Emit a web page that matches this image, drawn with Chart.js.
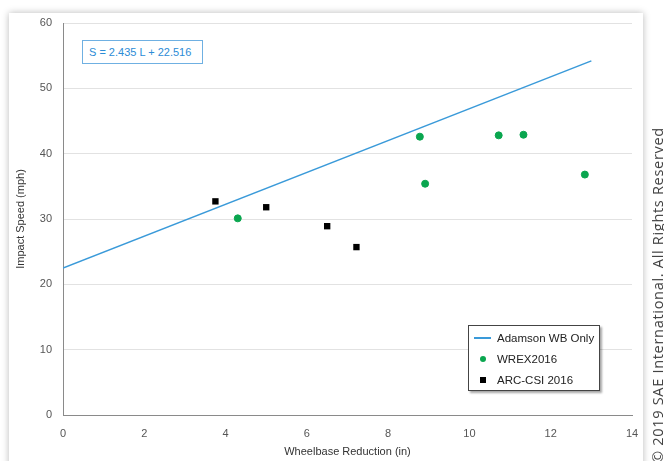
<!DOCTYPE html>
<html>
<head>
<meta charset="utf-8">
<script src="https://cdn.jsdelivr.net/npm/chart.js@4"></script>
<style>
  html, body { margin: 0; padding: 0; background: #fff; }
  body { width: 664px; height: 461px; position: relative; overflow: hidden; font-family: "Liberation Sans", Arial, sans-serif; }
  #card { position: absolute; left: 9px; top: 13px; width: 634px; height: 470px; background: #fff; box-shadow: 0 0 7px rgba(0,0,0,0.28); }
  #wrap { position: absolute; left: 0; top: 0; width: 664px; height: 461px; }
  #eq { position: absolute; left: 82px; top: 40px; width: 121px; height: 24px; border: 1px solid #6fb0e2; box-sizing: border-box;
        color: #2c8cd6; font-size: 11px; line-height: 22px; padding-left: 6px; background: #fff; }
  #legend { position: absolute; left: 468px; top: 325px; width: 132px; height: 66px; border: 1px solid #444; box-sizing: border-box;
            background: #fff; box-shadow: 2px 2px 2px rgba(0,0,0,0.35); font-size: 11.5px; color: #222; }
  .row { position: absolute; left: 0; height: 16px; line-height: 16px; }
  .row span { position: absolute; left: 28px; white-space: nowrap; }
  .lin { position: absolute; left: 5px; top: 7px; width: 17px; height: 2px; background: #3a9ad9; }
  .dot { position: absolute; left: 11px; top: 5px; width: 6px; height: 6px; border-radius: 50%; background: #0aa64f; }
  .sq { position: absolute; left: 11px; top: 5px; width: 6px; height: 6px; background: #000; }
  #copy { position: absolute; left: 650px; top: 463px; transform-origin: 0 0; transform: rotate(-90deg);
          font-family: "Open Sans", sans-serif; font-size: 14.5px; letter-spacing: 0.7px; line-height: 16px; color: #444; white-space: nowrap; }
</style>
</head>
<body>
<div id="card"></div>
<div id="wrap"><canvas id="c" width="664" height="461"></canvas></div>
<div id="eq">S = 2.435 L + 22.516</div>
<div id="legend">
  <div class="row" style="top:4px"><div class="lin"></div><span>Adamson WB Only</span></div>
  <div class="row" style="top:25px"><div class="dot"></div><span>WREX2016</span></div>
  <div class="row" style="top:46px"><div class="sq"></div><span>ARC-CSI 2016</span></div>
</div>
<div id="copy">© 2019 SAE International. All Rights Reserved</div>
<script>
// trend line endpoints (S = 2.435 L + 22.516)
const trendX = [0, 13];
const trendY = [22.5, 54.2];

// WREX2016 points
const wrexX = [4.3, 8.78, 8.91, 10.72, 11.33, 12.84];
const wrexY = [30.1, 42.6, 35.4, 42.8, 42.9, 36.8];

// ARC-CSI 2016 points
const arcX = [3.75, 5.0, 6.5, 7.22];
const arcY = [32.7, 31.8, 28.9, 25.7];

const xTicks = [0, 2, 4, 6, 8, 10, 12, 14];
const yTicks = [0, 10, 20, 30, 40, 50, 60];

function pts(xs, ys) {
    return xs.map((x, i) => ({ x: x, y: ys[i] }));
}

const tickFont = { family: 'Liberation Sans', size: 11 };

new Chart(document.getElementById('c'), {
    type: 'scatter',
    data: {
        datasets: [
            {
                label: 'Adamson WB Only',
                data: pts(trendX, trendY),
                showLine: true,
                borderColor: '#3a9ad9',
                borderWidth: 1.5,
                pointRadius: 0
            },
            {
                label: 'WREX2016',
                data: pts(wrexX, wrexY),
                backgroundColor: '#0aa64f',
                borderColor: '#0aa64f',
                pointRadius: 3.5,
                pointStyle: 'circle'
            },
            {
                label: 'ARC-CSI 2016',
                data: pts(arcX, arcY),
                backgroundColor: '#000',
                borderColor: '#000',
                borderWidth: 0,
                pointRadius: 4.5,
                pointStyle: 'rect'
            }
        ]
    },
    options: {
        responsive: false,
        animation: false,
        layout: { padding: { left: 10, top: 23, right: 32, bottom: 0 } },
        plugins: { legend: { display: false }, tooltip: { enabled: false } },
        scales: {
            x: {
                type: 'linear',
                min: 0, max: 14,
                afterBuildTicks: s => { s.ticks = xTicks.map(v => ({ value: v })); },
                afterFit: s => { s.height = 46; },
                grid: { display: false, drawTicks: false },
                border: { color: '#8a8a8a', width: 1 },
                ticks: { padding: 12, color: '#555', font: tickFont, maxRotation: 0 },
                title: { display: true, text: 'Wheelbase Reduction (in)', color: '#333', font: tickFont, padding: { top: 0, bottom: 2 } }
            },
            y: {
                type: 'linear',
                min: 0, max: 60,
                afterBuildTicks: s => { s.ticks = yTicks.map(v => ({ value: v })); },
                afterFit: s => { s.width = 53; },
                grid: { color: '#e2e2e2', drawTicks: false },
                border: { color: '#8a8a8a', width: 1 },
                ticks: { padding: 11, color: '#555', font: tickFont },
                title: { display: true, text: 'Impact Speed (mph)', color: '#333', font: tickFont, padding: { top: 4, bottom: 0 } }
            }
        }
    }
});
</script>
</body>
</html>
